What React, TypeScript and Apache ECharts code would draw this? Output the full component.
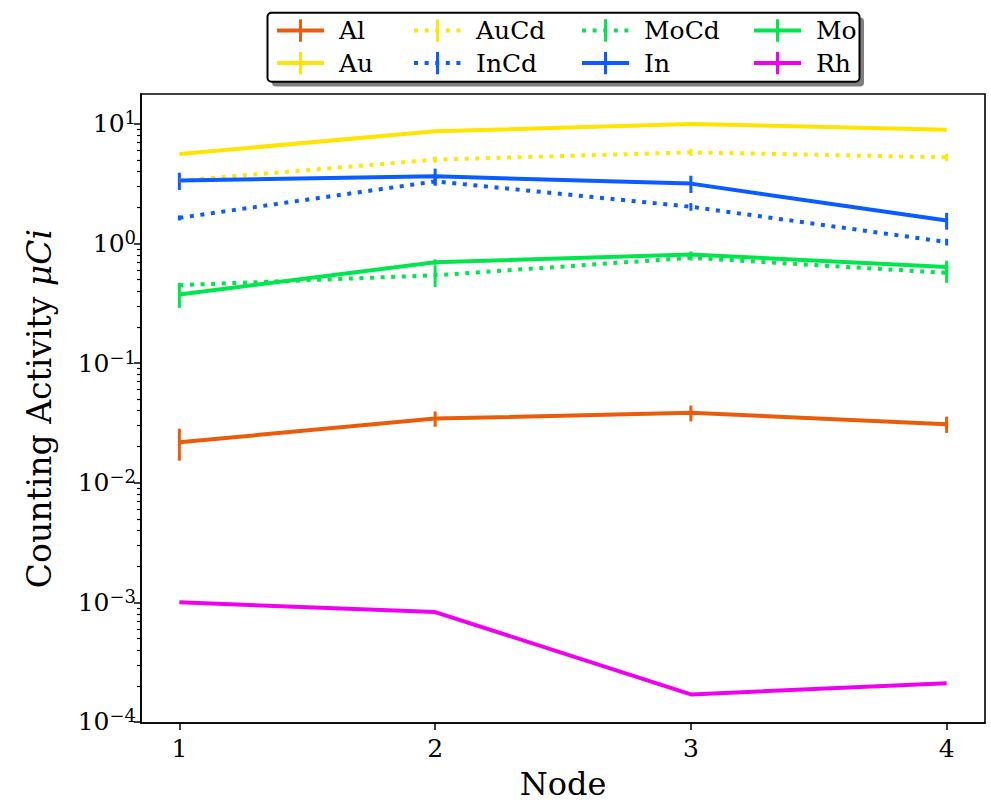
import React, { useEffect, useRef } from "react";
import * as echarts from "echarts";

// ---- data ----
const nodes = [1, 2, 3, 4];
const xTicks = [1, 2, 3, 4];
const yTickValues = [1e-4, 1e-3, 1e-2, 1e-1, 1, 10];
const minorDecades = [1e-4, 1e-3, 1e-2, 1e-1, 1, 10];
const minorMultipliers = [2, 3, 4, 5, 6, 7, 8, 9];

const alValues = [0.0218, 0.0344, 0.0384, 0.0309];
const alErr = [0.0065, 0.005, 0.0058, 0.0048];
const auValues = [5.61, 8.67, 10.0, 8.96];
const auCdValues = [3.36, 5.03, 5.79, 5.26];
const auCdErr = [0.15, 0.3, 0.4, 0.37];
const inCdValues = [1.64, 3.31, 2.03, 1.03];
const inCdErr = [0.08, 0.26, 0.15, 0.067];
const moCdValues = [0.449, 0.543, 0.76, 0.569];
const moCdErr = [0.02, 0.11, 0.04, 0.1];
const inValues = [3.36, 3.65, 3.17, 1.556];
const inErr = [0.55, 0.58, 0.52, 0.25];
const moValues = [0.375, 0.698, 0.809, 0.638];
const moErr = [0.085, 0.04, 0.05, 0.08];
const rhValues = [1.0e-3, 8.3e-4, 1.7e-4, 2.11e-4];

const legendColumns = [
  ["Al", "Au"],
  ["AuCd", "InCd"],
  ["MoCd", "In"],
  ["Mo", "Rh"],
];

const FONT = "DejaVu Serif";
const BAR = "path://M0,0M22,22M9.5,0h3v22h-3z";

export default function App() {
  const ref = useRef<HTMLDivElement>(null);
  useEffect(() => {
    if (!ref.current) return;
    const chart = echarts.init(ref.current, undefined, { renderer: "svg" });

    const defs = [
      { name: "Al", values: alValues, errors: alErr, color: "#eb5c0a", dotted: false },
      { name: "Au", values: auValues, errors: null, color: "#ffe400", dotted: false },
      { name: "AuCd", values: auCdValues, errors: auCdErr, color: "#ffe800", dotted: true },
      { name: "InCd", values: inCdValues, errors: inCdErr, color: "#0a5cff", dotted: true },
      { name: "MoCd", values: moCdValues, errors: moCdErr, color: "#00e64d", dotted: true },
      { name: "In", values: inValues, errors: inErr, color: "#0a5cff", dotted: false },
      { name: "Mo", values: moValues, errors: moErr, color: "#00e64d", dotted: false },
      { name: "Rh", values: rhValues, errors: null, color: "#f000f0", dotted: false },
    ];

    const minorTicks: number[] = [];
    minorDecades.forEach((d) =>
      minorMultipliers.forEach((m) => minorTicks.push(parseFloat((d * m).toPrecision(6))))
    );

    const series: any[] = [];
    defs.forEach((d) => {
      series.push({
        type: "line",
        name: d.name,
        data: nodes.map((x, i) => [x, d.values[i]]),
        xAxisIndex: 0,
        yAxisIndex: 0,
        symbol: BAR,
        symbolKeepAspect: true,
        showSymbol: false,
        silent: true,
        lineStyle: {
          color: d.color,
          width: 4,
          type: d.dotted ? [4, 6.6] : "solid",
          cap: "butt",
        },
        itemStyle: { color: d.color },
      });
      if (d.errors) {
        const errs = d.errors;
        const color = d.color;
        series.push({
          type: "custom",
          xAxisIndex: 0,
          yAxisIndex: 0,
          silent: true,
          data: nodes.map((x, i) => [x, d.values[i] - errs[i], d.values[i] + errs[i]]),
          encode: { x: 0, y: [1, 2] },
          renderItem: (params: any, api: any) => {
            const x = api.value(0);
            const p1 = api.coord([x, api.value(1)]);
            const p2 = api.coord([x, api.value(2)]);
            return {
              type: "line",
              shape: { x1: p1[0], y1: p1[1], x2: p2[0], y2: p2[1] },
              style: { stroke: color, lineWidth: 3 },
            };
          },
        });
      }
    });

    const legendLeft = [275, 412, 580, 752];

    const labelRich = {
      b: { fontFamily: FONT, fontSize: 25, color: "#000", lineHeight: 30 },
      s: { fontFamily: FONT, fontSize: 18, color: "#000", lineHeight: 24, verticalAlign: "top" },
    };

    const option: any = {
      animation: false,
      backgroundColor: "#fff",
      grid: {
        left: 141,
        right: 6,
        top: 94,
        bottom: 80,
        show: true,
        borderColor: "#000",
        borderWidth: 1.6,
        outerBoundsMode: "none",
      },
      graphic: [
        {
          type: "rect",
          z: 0,
          shape: { x: 272, y: 17.5, width: 592, height: 69, r: 4 },
          style: { fill: "rgba(0,0,0,0.5)" },
          silent: true,
        },
        {
          type: "rect",
          z: 1,
          shape: { x: 267.5, y: 12.7, width: 592, height: 69, r: 4 },
          style: { fill: "#fff", stroke: "#000", lineWidth: 2 },
          silent: true,
        },
      ],
      legend: legendColumns.map((names, i) => ({
        data: names,
        orient: "vertical",
        left: legendLeft[i],
        top: 16.5,
        itemWidth: 47,
        itemHeight: 28,
        itemGap: 4.6,
        padding: 0,
        z: 5,
        selectedMode: false,
        symbolKeepAspect: true,
        lineStyle: { width: 4 },
        textStyle: {
          fontFamily: FONT,
          fontSize: 25,
          color: "#000",
          lineHeight: 28,
          padding: [0, 0, 0, 10],
        },
      })),
      xAxis: {
        type: "value",
        min: 0.85,
        max: 4.15,
        axisLine: { onZero: false, lineStyle: { color: "#000", width: 1.6 } },
        axisTick: {
          customValues: xTicks,
          length: 7,
          lineStyle: { color: "#000", width: 1.5 },
        },
        axisLabel: {
          customValues: xTicks,
          margin: 13,
          color: "#000",
          fontFamily: FONT,
          fontSize: 25,
        },
        splitLine: { show: false },
        name: "Node",
        nameLocation: "middle",
        nameGap: 48,
        nameTextStyle: { fontFamily: FONT, fontSize: 32, color: "#000", lineHeight: 26 },
      },
      yAxis: [
        {
          type: "log",
          logBase: 10,
          min: 9.8e-5,
          max: 17.8,
          position: "left",
          axisLine: { show: true, onZero: false, lineStyle: { color: "#000", width: 1.6 } },
          axisTick: {
            show: true,
            customValues: yTickValues,
            length: 7,
            lineStyle: { color: "#000", width: 1.5 },
          },
          axisLabel: {
            customValues: yTickValues,
            margin: 5,
            color: "#000",
            fontFamily: FONT,
            fontSize: 25,
            formatter: (v: number) => {
              const e = Math.round(Math.log10(v));
              return "{b|10}{s|" + (e < 0 ? "\u2212" : "") + Math.abs(e) + "}";
            },
            rich: labelRich,
          },
          splitLine: { show: false },
          name: "{n|Counting Activity }{i|\u03bcCi}",
          nameLocation: "middle",
          nameRotate: 90,
          nameGap: 85,
          nameTextStyle: {
            fontFamily: FONT,
            fontSize: 33,
            color: "#000",
            rich: {
              n: { fontFamily: FONT, fontSize: 33, color: "#000" },
              i: { fontFamily: FONT, fontSize: 33, color: "#000", fontStyle: "italic" },
            },
          },
        },
        {
          type: "log",
          logBase: 10,
          min: 9.8e-5,
          max: 17.8,
          position: "left",
          axisLine: { show: false, onZero: false },
          axisTick: {
            show: true,
            customValues: minorTicks,
            length: 4,
            lineStyle: { color: "#000", width: 1.2 },
          },
          axisLabel: { show: false },
          splitLine: { show: false },
        },
      ],
      series,
    };

    chart.setOption(option);
    return () => chart.dispose();
  }, []);

  return (
    <div
      ref={ref}
      style={{ position: "fixed", left: 0, top: 0, width: 991, height: 803, background: "#fff" }}
    />
  );
}
